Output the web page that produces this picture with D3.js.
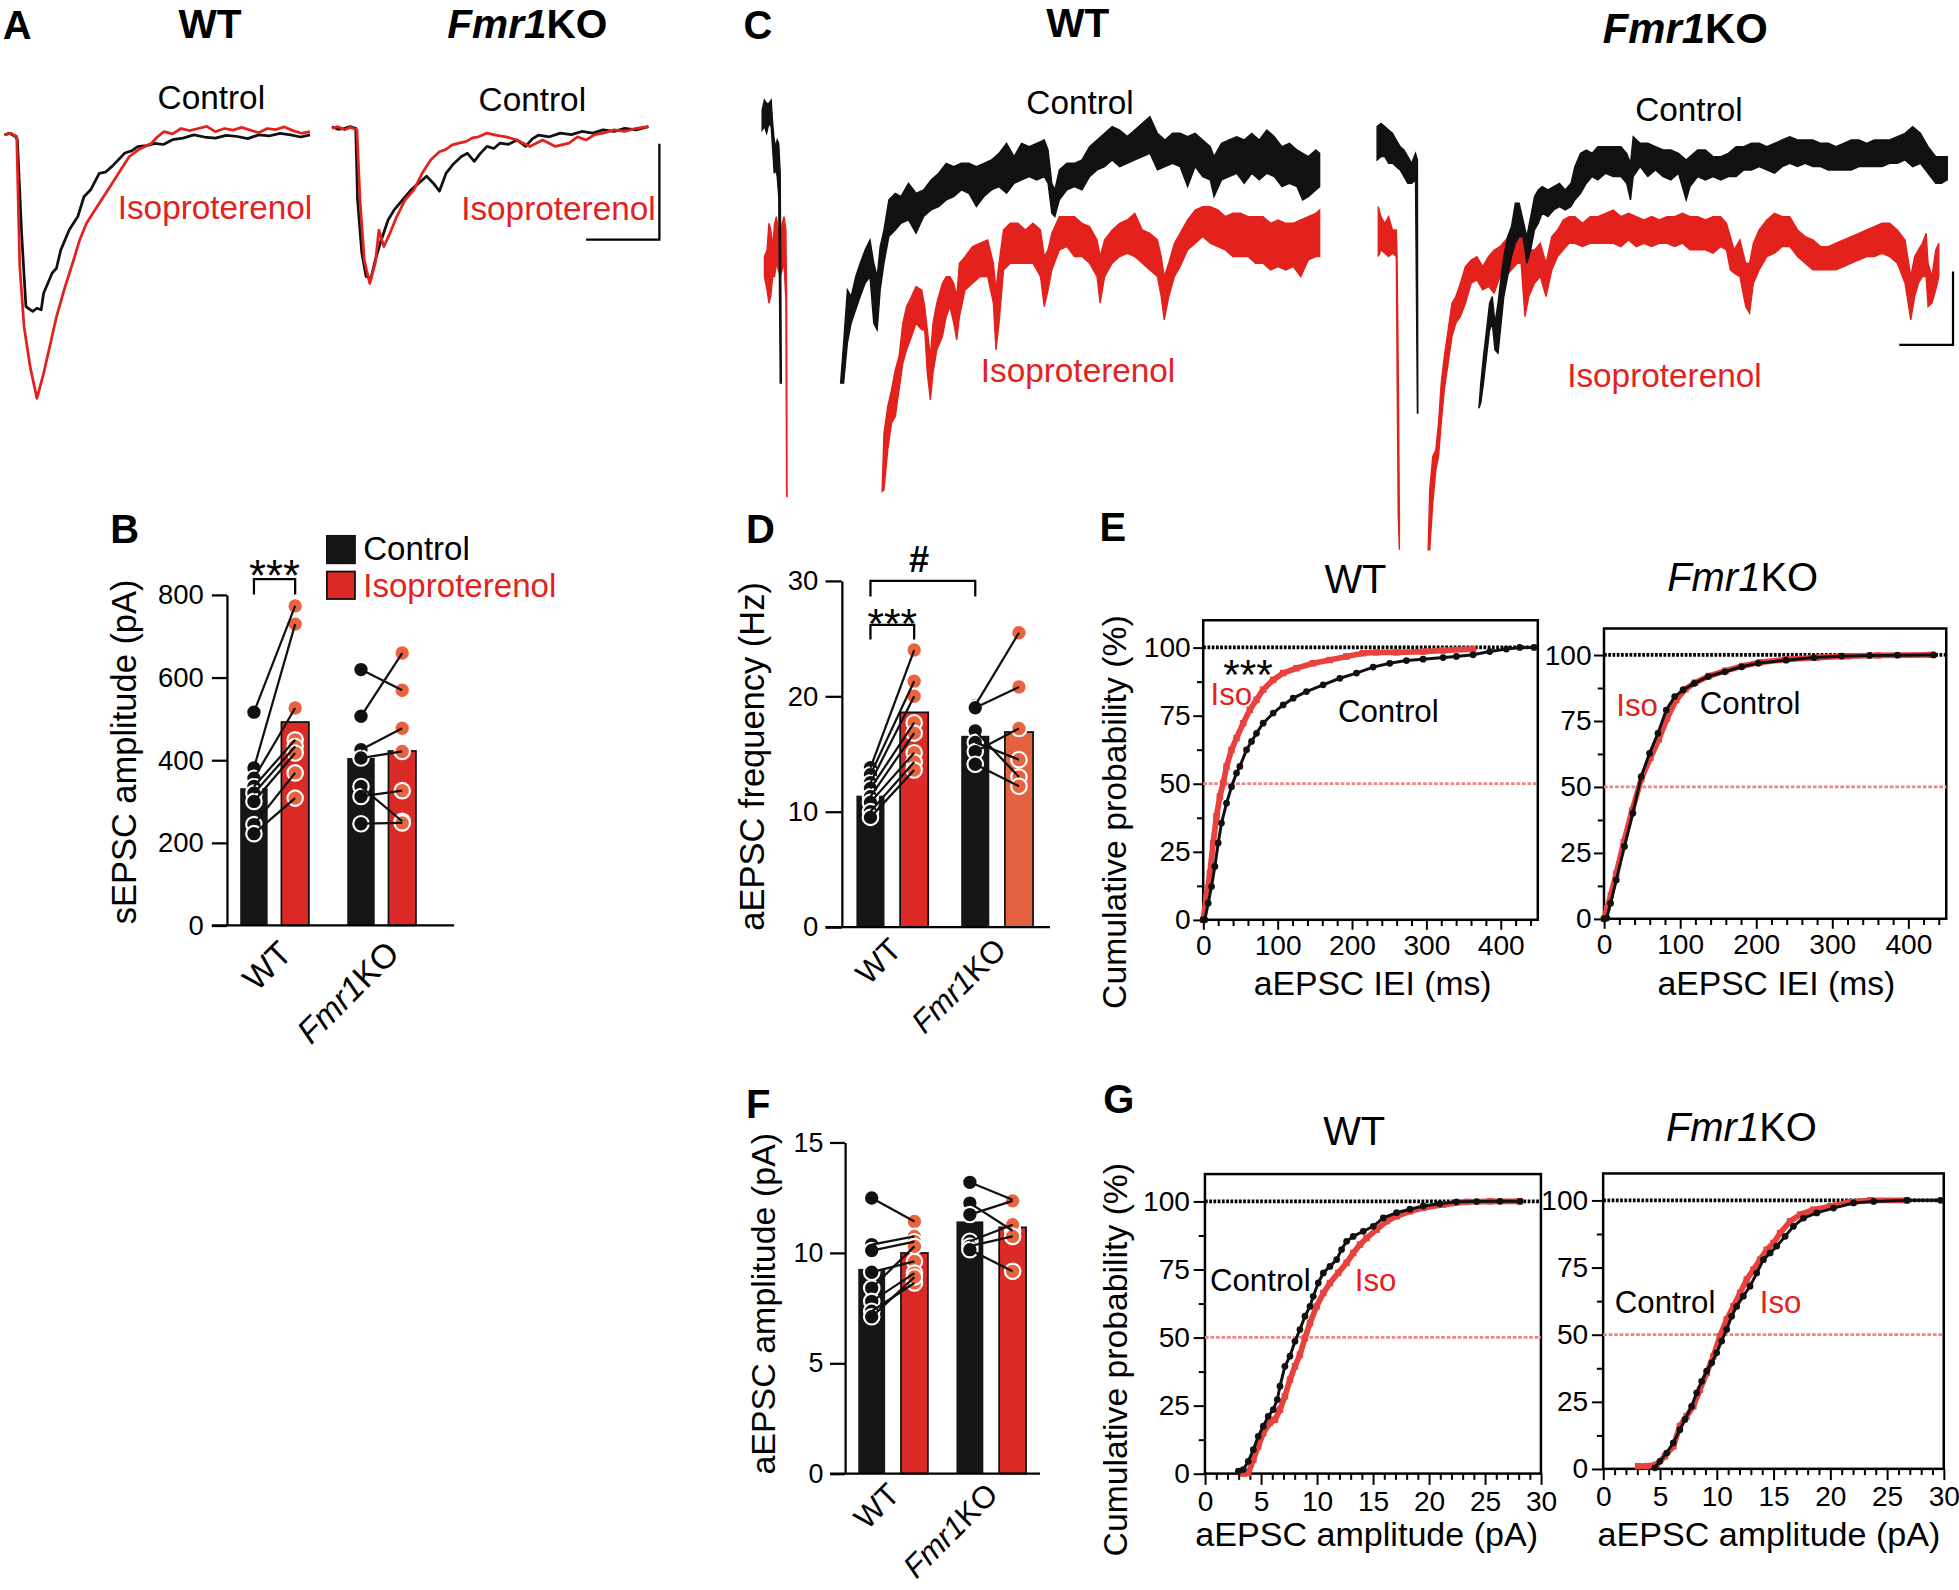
<!DOCTYPE html>
<html>
<head>
<meta charset="utf-8">
<script src="https://cdn.jsdelivr.net/npm/d3@7/dist/d3.min.js"></script>
<style>
html,body{margin:0;padding:0;background:#fff;}
svg{display:block;}
</style>
</head>
<body>
<svg id="fig" width="1959" height="1590" viewBox="0 0 1568 1273"></svg>
<script>
// ================= DATA =================
const groups = ["WT", "Fmr1KO"];
const conditions = ["Control", "Isoproterenol"];

// ---- Panel A: averaged sEPSC traces  [time ms, current pA] ----
const aWT_ctrl = [[0,0],[0.8,3],[1.8,-3],[2.1,-9],[2.8,-185],[3.5,-322],[4.6,-331],[5.3,-325],[6.0,-328],[6.4,-297],[7.8,-259],[8.5,-250],[9.2,-216],[10.6,-178],[12.0,-153],[13.0,-116],[14.1,-103],[15.5,-72],[16.5,-70],[17.6,-59],[19.7,-34],[20.8,-30],[21.8,-22],[23.2,-20],[24.6,-16],[26.0,-18],[27.5,-9],[29.2,-6],[31.0,0],[32.7,-4],[34.5,-6],[36.3,-1],[38.1,-3],[39.8,-7],[41.6,0],[43.3,-2],[45.1,3],[46.8,0],[48.5,-4],[50,0]];
const aWT_iso = [[0,0],[1.0,3],[2.0,-3],[2.3,-153],[2.5,-247],[3.2,-360],[4.2,-435],[5.3,-494],[6.4,-447],[7.4,-397],[8.5,-341],[9.9,-285],[11.3,-235],[12.3,-197],[13.4,-166],[14.8,-141],[16.2,-116],[17.6,-91],[19.0,-66],[20.4,-41],[21.9,-28],[24.0,-16],[25.0,-4],[26.1,6],[27.5,2],[28.9,12],[30.3,8],[31.7,12],[33.1,16],[34.5,6],[36.0,12],[37.4,9],[38.8,14],[40.2,9],[41.6,4],[43.0,12],[44.4,10],[45.8,15],[47.2,8],[48.6,3],[50,6]];
const aKO_ctrl = [[0,3],[1,-2],[2.1,0],[3,3],[3.9,0],[4.2,-134],[4.9,-234],[5.6,-278],[6.4,-281],[7.1,-247],[8.1,-209],[9.2,-172],[10.2,-153],[11.6,-134],[13.0,-115],[14.5,-100],[15.5,-90],[16.6,-103],[17.6,-118],[18.7,-84],[19.8,-68],[21.2,-53],[22.2,-47],[23.3,-62],[24.3,-47],[25.4,-34],[26.5,-38],[27.5,-28],[28.9,-30],[30.3,-22],[31.7,-34],[32.8,-20],[33.8,-13],[35.6,-16],[37.4,-9],[39.2,-12],[40.9,-6],[42.7,-9],[44.4,-3],[46.2,-6],[47.9,0],[49.8,-3],[51.8,3]];
const aKO_iso = [[0,0],[1,3],[2.1,-3],[3,2],[4.1,-3],[4.6,-134],[5.3,-247],[6.2,-291],[7.1,-253],[7.7,-191],[8.5,-222],[9.5,-197],[10.6,-166],[12.0,-134],[13.4,-116],[14.8,-84],[16.2,-59],[17.6,-44],[18.6,-40],[19.7,-31],[20.8,-28],[21.9,-25],[23.0,-18],[24.0,-16],[25.4,-9],[26.8,-13],[28.5,-16],[30.3,-22],[32.4,-34],[34.5,-22],[36.6,-34],[38.8,-28],[40.2,-16],[41.6,-22],[43.0,-12],[44.4,-9],[46.2,-3],[47.9,-6],[49.8,0],[51.8,3]];
const aScaleBar = {t: 53.6, i: -209, ms: 12, pA: 180};

// ---- Panel C: asynchronous EPSC traces  [time ms, noise-band low pA, noise-band high pA] ----
const cWT_ctrl_pre = [[16,10,17.5],[19,11.25,21.25],[22,8.75,20],[25,12.5,20],[28,11.25,21.25],[30,2.5,12.5],[32,-6.25,6.25],[34,-5,3.75],[36,-7.5,6.25],[38,-15,5],[40,-85,-6.25],[41.5,-85,-85]];
const cWT_ctrl_post = [[120,-85,-85],[124,-85,-70],[129,-70,-50],[134,-62.5,-52.5],[140,-57.5,-45],[146,-52.5,-40],[152.5,-47.5,-35],[159,-45,-31.25],[164,-62.5,-40],[168.5,-65,-45],[172.5,-50,-33.75],[177.5,-40,-27.5],[184,-30,-16.25],[192.5,-27.5,-13.75],[200,-25,-15],[210,-23.75,-10],[220,-28.75,-13.75],[230,-22.5,-12.5],[240,-20,-8.75],[250,-18.75,-6.25],[260,-16.25,-2.5],[270,-15,-3.75],[280,-12.5,-2.5],[290,-13.75,-2.5],[300,-18.75,-3.75],[310,-15,-2.5],[320,-12.5,-1.25],[330,-11.25,1.25],[340,-13.75,5],[350,-10,0],[360,-8.75,5],[370,-7.5,3.75],[380,-8.75,5],[390,-7.5,6.25],[395,-10,2.5],[400,-21.25,-10],[404,-22.5,-12.5],[410,-16.25,-5],[420,-12.5,-2.5],[430,-11.25,-2.5],[440,-12.5,-1.25],[450,-7.5,3.75],[460,-5,6.25],[470,-3.75,8.75],[480,-1.25,11.25],[490,-3.75,10],[500,-2.5,7.5],[510,-1.25,10],[520,0,12.5],[530,1.25,15],[540,-5,8.75],[550,-3.75,6.25],[560,-2.5,8.75],[570,-3.75,8.75],[580,-11.25,7.5],[590,-3.75,8.75],[600,-7.5,6.25],[610,-8.75,3.75],[615,-15,0],[625,-8.75,5],[635,-7.5,6.25],[645,-6.25,7.5],[655,-10,6.25],[665,-6.25,8.75],[675,-8.75,6.25],[685,-6.25,10],[695,-7.5,7.5],[705,-11.25,3.75],[715,-10,5],[725,-11.25,2.5],[732.5,-16.25,1.25],[740,-15,0],[750,-12.5,2.5],[755,-11.25,1.25]];
const cWT_iso_pre = [[19,-45,-37.5],[22.5,-50,-35],[25,-55,-25],[27.5,-52.5,-27.5],[30,-45,-33.75],[32.5,-45,-25],[35,-40,-22.5],[37.5,-42.5,-27.5],[40,-45,-32.5],[42.5,-42.5,-25],[45,-40,-22.5],[47.5,-53.75,-27.5],[48.5,-127.5,-53.75],[49,-127.5,-127.5]];
const cWT_iso_post = [[175,-125.6,-125.6],[177.5,-125,-103.75],[182.5,-110,-93.75],[187.5,-100,-87.5],[192.5,-97.5,-80],[197.5,-87.5,-75],[202.5,-77.5,-62.5],[207.5,-72.5,-56.25],[214,-67.5,-52.5],[220,-62.5,-48.75],[227.5,-65,-50],[231.5,-65,-56.25],[235,-81.25,-65],[239,-91.25,-75],[242.5,-81.25,-62.5],[247.5,-72.5,-55],[255,-67.5,-47.5],[260,-60,-45],[265,-56.25,-45],[270,-62.5,-47.5],[274,-68.75,-52.5],[277.5,-60,-40],[285,-50,-37.5],[295,-47.5,-33.75],[305,-45,-32.5],[315,-45,-31.25],[322.5,-55,-40],[326,-72.5,-50],[330,-62.5,-40],[336,-42.5,-27.5],[345,-40,-25],[355,-40,-25],[365,-40,-27.5],[375,-40,-25],[385,-45,-27.5],[390,-56.25,-37.5],[395,-50,-35],[400,-42.5,-28.75],[410,-35,-22.5],[420,-33.75,-22.5],[430,-37.5,-22.5],[440,-37.5,-25],[450,-40,-26.25],[460,-45,-31.25],[464,-55,-37.5],[470,-45,-31.25],[480,-40,-27.5],[490,-37.5,-25],[500,-36.25,-23.75],[510,-37.5,-21.25],[520,-40,-27.5],[530,-42.5,-28.75],[540,-45,-31.25],[545,-52.5,-37.5],[549,-61.25,-45],[555,-52.5,-40],[562.5,-45,-32.5],[570,-41.25,-28.75],[580,-35,-23.75],[590,-32.5,-20],[600,-30,-18.75],[610,-32.5,-18.75],[620,-33.75,-20],[630,-35,-22.5],[640,-37.5,-21.25],[650,-37.5,-21.25],[660,-37.5,-22.5],[670,-40,-22.5],[680,-40,-22.5],[690,-42.5,-25],[700,-41.25,-23.75],[710,-42.5,-25],[720,-41.25,-25],[730,-45,-23.75],[740,-38.75,-22.5],[750,-37.5,-21.25],[755,-37.5,-20]];
const cKO_ctrl_pre = [[22.5,-1.25,11.25],[27.5,0,12.5],[32.5,0,11.25],[37.5,-2.5,10],[42.5,-2.5,8.75],[47.5,-3.75,6.25],[52.5,-5,3.75],[57.5,-7.5,2.5],[62.5,-10,0],[67.5,-10,-2.5],[72.5,-8.75,1.25],[75,-96.25,-1.25],[75.5,-96.25,-96.25]];
const cKO_ctrl_post = [[155,-94.4,-94.4],[157.5,-92.5,-85],[161,-85,-75],[165,-75,-65],[169,-65,-55],[172.5,-62.5,-52.5],[176,-72.5,-62.5],[180,-73.75,-55],[184,-62.5,-45],[187.5,-52.5,-37.5],[192.5,-45,-30],[197.5,-37.5,-26.25],[202.5,-32.5,-17.5],[207.5,-30,-17.5],[212.5,-30,-23.75],[217.5,-40,-30],[222.5,-35,-22.5],[227.5,-27.5,-15],[232.5,-25,-12.5],[237.5,-21.25,-11.25],[245,-22.5,-12.5],[252.5,-20,-11.25],[260,-18.75,-10],[267.5,-20,-12.5],[275,-18.75,-10],[280,-16.25,-3.75],[287.5,-13.75,1.25],[295,-10,2.5],[302.5,-7.5,1.25],[310,-8.75,3.75],[320,-6.25,3.75],[330,-7.5,3.75],[340,-7.5,3.75],[347.5,-10,1.25],[352.5,-16.25,-2.5],[356,-7.5,7.5],[365,-3.75,5],[375,-7.5,5],[385,-5,3.75],[395,-7.5,2.5],[405,-8.75,2.5],[415,-6.25,1.25],[425,-16.25,-1.25],[430,-11.25,0],[440,-7.5,2.5],[450,-8.75,2.5],[460,-7.5,0],[470,-8.75,0],[480,-7.5,1.25],[490,-7.5,3.75],[500,-5,3.75],[510,-5,5],[520,-3.75,5],[530,-5,3.75],[540,-6.25,5],[550,-3.75,6.25],[560,-2.5,7.5],[570,-3.75,6.25],[580,-2.5,6.25],[590,-3.75,6.25],[600,-3.75,5],[610,-5,5],[620,-5,3.75],[630,-5,5],[640,-5,6.25],[650,-3.75,6.25],[660,-3.75,5],[670,-3.75,6.25],[680,-3.75,6.25],[690,-2.5,6.25],[700,-2.5,7.5],[710,-1.25,8.75],[720,-3.75,11.25],[730,-2.5,8.75],[740,-6.25,3.75],[750,-10,0],[757.5,-10,0],[765,-8.75,0]];
const cKO_iso_pre = [[24,-37.5,-18.75],[27.5,-35,-22.5],[32.5,-36.25,-25],[37.5,-37.5,-22.5],[42.5,-36.25,-27.5],[47.5,-37.5,-27.5],[48.5,-78.75,-37.5],[50,-134.4,-78.75],[51.5,-147.5,-134.4]];
const cKO_iso_post = [[89,-147.5,-147.5],[91,-147.5,-125],[95,-130,-112.5],[99,-117.5,-110],[102.5,-112.5,-100],[106,-100,-85],[110,-87.5,-75],[115,-77.5,-65],[120,-67.5,-55],[125,-62.5,-52.5],[131,-60,-47.5],[137.5,-55,-41.25],[145,-47.5,-38.75],[152.5,-46.25,-37.5],[160,-50,-41.25],[167.5,-48.75,-37.5],[175,-51.25,-35],[182.5,-45,-33.75],[190,-45,-31.25],[197.5,-42.5,-28.75],[205,-40,-28.75],[210,-40,-27.5],[215,-60,-37.5],[220,-52.5,-35],[227.5,-47.5,-35],[235,-45,-32.5],[242.5,-52.5,-40],[250,-42.5,-30],[257.5,-37.5,-27.5],[265,-35,-23.75],[272.5,-32.5,-22.5],[280,-32.5,-22.5],[290,-33.75,-25],[300,-32.5,-22.5],[310,-32.5,-22.5],[320,-32.5,-21.25],[330,-32.5,-20],[340,-33.75,-22.5],[350,-31.25,-21.25],[360,-33.75,-22.5],[370,-32.5,-23.75],[380,-33.75,-22.5],[390,-32.5,-23.75],[400,-32.5,-22.5],[410,-33.75,-22.5],[420,-32.5,-21.25],[430,-35,-22.5],[440,-35,-22.5],[450,-35,-23.75],[460,-36.25,-22.5],[470,-33.75,-22.5],[477.5,-35,-25],[482.5,-42.5,-30],[487.5,-43.75,-35],[495,-45,-31.25],[502.5,-56.25,-40],[507.5,-58.75,-40],[512.5,-47.5,-32.5],[520,-42.5,-27.5],[530,-37.5,-23.75],[540,-36.25,-21.25],[550,-33.75,-22.5],[560,-33.75,-22.5],[570,-37.5,-27.5],[580,-40,-30],[590,-42.5,-31.25],[600,-42.5,-33.75],[610,-42.5,-33.75],[620,-42.5,-32.5],[630,-41.25,-31.25],[640,-40,-30],[650,-38.75,-28.75],[660,-37.5,-27.5],[670,-37.5,-26.25],[680,-36.25,-25],[690,-37.5,-25],[700,-40,-27.5],[710,-47.5,-31.25],[717.5,-61.25,-45],[722.5,-52.5,-37.5],[727.5,-47.5,-35],[732.5,-45,-32.5],[737.5,-45,-28.75],[740,-56.25,-40],[745,-55,-45],[750,-50,-35],[754,-45,-32.5]];
const cScaleBar = {t: 772.5, i: -70.6, ms: 70, pA: 27.5};

// ---- Panel B: sEPSC amplitude (pA) ----
const bMeanControl = [332, 405];
const bMeanIso = [492, 422];
const bWT_ctrl = [516, 381, 356, 336, 320, 300, 244, 222];
const bWT_iso  = [773, 729, 526, 449, 433, 417, 369, 308];
const bKO_ctrl = [619, 506, 425, 405, 336, 312, 246];
const bKO_iso  = [569, 659, 477, 421, 252, 326, 248];
const bTicks = [0, 200, 400, 600, 800];

// ---- Panel D: aEPSC frequency (Hz) ----
const dMeanControl = [11.38, 16.57];
const dMeanIso = [18.6, 16.9];
const dWT_ctrl = [13.8, 13.2, 12.5, 12.0, 11.3, 10.8, 10.0, 9.5];
const dWT_iso  = [24.0, 21.3, 20.0, 17.7, 16.8, 15.1, 14.3, 13.6];
const dKO_ctrl = [19.2, 19.0, 17.0, 16.0, 15.2, 14.1];
const dKO_iso  = [25.5, 20.8, 13.0, 14.5, 17.2, 12.2];
const dTicks = [0, 10, 20, 30];

// ---- Panel F: aEPSC amplitude (pA) ----
const fMeanControl = [9.27, 11.42];
const fMeanIso = [9.99, 11.15];
const fWT_ctrl = [12.48, 10.37, 10.1, 9.12, 8.40, 7.80, 7.35, 7.1];
const fWT_iso  = [11.42, 10.74, 10.5, 9.61, 10.29, 9.08, 8.63, 8.9];
const fKO_ctrl = [13.19, 12.25, 11.73, 10.52, 10.3, 10.14];
const fKO_iso  = [12.4, 11.0, 12.35, 11.27, 10.74, 9.16];
const fTicks = [0, 5, 10, 15];

// ---- Panel E: cumulative aEPSC IEI  [ms, %] ----
const eWT_ctrl = [[0,0],[2.2,0],[6.7,6.1],[11.2,12.2],[15.7,19.6],[20.2,28.2],[24.6,35.5],[31.4,42.8],[38.1,48.9],[44.8,53.9],[49.3,56.3],[58.2,62.4],[65,65.5],[71.7,68.5],[80.6,72.2],[94.1,75.9],[107.5,78.9],[121,81.4],[138.9,83.8],[161.3,86.3],[183.7,88.7],[206.1,90.6],[228.5,92.8],[250.9,94.2],[273.3,95.2],[295.7,95.7],[322.6,96.3],[340.5,96.7],[362.9,97.3],[385.3,98.5],[407.7,99.4],[425.6,100],[445,100]];
const eWT_iso = [[0,0],[4.5,8.6],[9,17.1],[13.4,28.2],[17.9,38],[22.4,45.3],[26.9,50.2],[31.4,56.3],[38.1,62.4],[44.8,66.7],[53.8,72.2],[62.7,77.1],[71.7,80.8],[80.6,84.5],[94.1,88.1],[107.5,90.6],[125.4,92.4],[147.8,94.2],[170.2,95.4],[192.6,96.7],[215,97.9],[232.9,98.2],[259.8,98.2],[295.7,98.5],[322.6,98.9],[362.9,99.4]];
const eKO_ctrl = [[0,0],[3.6,0.3],[8.7,5.9],[16.1,14.7],[26.9,27.4],[37.9,40],[48.9,53.9],[59.9,62.7],[70.9,70.3],[81.9,79.1],[92.9,84.2],[103.9,86.7],[118.5,89.2],[136.8,91.8],[158.8,93.6],[180.8,95.5],[202.8,96.8],[239.4,98],[276,99],[312.6,99.5],[349.3,99.8],[385.9,99.9],[433.5,100]];
const eKO_iso = [[0,0],[4,4],[9,9],[16,17],[26,29],[37,41],[49,53],[61,61],[72,68],[83,76],[95,83],[107,87],[120,89.5],[138,92],[160,94],[182,95.8],[205,97.2],[240,98.3],[280,99],[320,99.5],[360,99.8],[430,100]];
const eXTicks = [0, 100, 200, 300, 400];

// ---- Panel G: cumulative aEPSC amplitude  [pA, %] ----
const gWT_ctrl = [[2.98,0.9],[3.42,1.5],[3.87,4.5],[4.32,8.8],[4.76,13.7],[5.21,17.4],[5.65,21],[6.1,23.5],[6.46,27.2],[6.7,32.1],[7.14,39.4],[7.59,43.1],[8.04,48.6],[8.48,52.9],[8.93,57.8],[9.38,61.4],[9.67,65.1],[10.12,70],[10.57,73.7],[11.16,76.1],[11.76,78.6],[12.2,82.3],[12.65,85.3],[13.24,87.1],[14.14,89],[15.03,90.8],[15.92,93.9],[17.11,95.8],[18.3,97.1],[19.49,98.3],[20.98,99.1],[22.47,99.8],[24.26,99.9],[26.34,100],[28.13,100]];
const gWT_iso = [[3.42,0],[3.87,0.2],[4.32,5.1],[4.76,10],[5.21,14.9],[5.8,18.6],[6.25,19.8],[6.7,23.5],[7.14,28.4],[7.59,34.5],[8.04,39.4],[8.48,43.7],[8.93,49.8],[9.38,55.3],[9.97,61.4],[10.57,66.3],[11.16,70],[11.9,73.7],[12.65,77.4],[13.24,81],[13.84,84.1],[14.43,86.5],[15.33,89.6],[16.22,92.7],[17.11,94.5],[18.3,96.3],[19.49,97.6],[21.28,98.8],[23.36,99.8],[25.45,100],[28.13,100]];
const gKO_ctrl = [[4.56,0.4],[5,2.8],[5.59,5.9],[6.18,9.7],[6.76,14.6],[7.21,18.4],[7.79,23.3],[8.24,28.3],[8.68,32.6],[9.12,36.4],[9.56,39.5],[10,43.2],[10.44,47.6],[10.88,51.9],[11.32,56.8],[11.76,60.5],[12.35,64.3],[12.94,68],[13.53,72.9],[14.12,77.9],[14.71,80.4],[15.29,82.9],[16.03,86.6],[16.76,90.3],[17.65,93.4],[18.82,95.3],[20.29,97.1],[22.06,99],[23.82,99.6],[26.76,100],[29.71,100]];
const gKO_iso = [[3.09,1],[3.82,1],[4.71,1.6],[5.44,4.7],[6.18,8.4],[6.76,15.9],[7.35,19.6],[7.94,23.3],[8.53,29.5],[9.12,35.7],[9.71,41.9],[10.29,49.4],[10.88,55.6],[11.47,60.5],[12.06,65.5],[12.65,70.5],[13.24,74.2],[13.82,77.9],[14.41,81.6],[15,84.1],[15.59,87.8],[16.47,92.2],[17.35,94.7],[18.53,96.5],[20,97.8],[21.76,99.3],[23.53,100],[26.76,100]];
const gXTicks = [0, 5, 10, 15, 20, 25, 30];
const cumYTicks = [0, 25, 50, 75, 100];
const cumYMinor = [12.5, 37.5, 62.5, 87.5];

// ================= DRAWING =================
const FONT = '"Liberation Sans", Arial, Helvetica, sans-serif';
const INK = "#111111", RED = "#e3221d", ISODOT = "#e9633f", BARRED = "#dc2a26", BARORANGE = "#e3623f",
      CURVERED = "#e8423e", PINK = "#f08585";
const svg = d3.select("#fig").attr("font-family", FONT);

function addText(sel, x, y, str, o = {}) {
  const t = sel.append("text").attr("x", x).attr("y", y)
    .attr("font-size", o.size || 27).attr("fill", o.fill || "#000")
    .attr("text-anchor", o.anchor || "start").attr("font-weight", o.weight || "normal");
  if (o.rotate != null) t.attr("transform", `rotate(${o.rotate},${x},${y})`);
  if (str === "Fmr1KO") {
    t.append("tspan").attr("font-style", "italic").text("Fmr1");
    t.append("tspan").text("KO");
  } else t.text(str);
  return t;
}
function styleAxis(s, fs, sw) {
  s.attr("font-size", fs).attr("font-family", FONT);
  s.selectAll("line").attr("stroke", "#000").attr("stroke-width", sw);
  s.selectAll("path.domain").attr("stroke", "#000").attr("stroke-width", sw);
  s.selectAll("text").attr("fill", "#000");
}

// panel letters
[["A",2,31],["B",88,435],["C",595,31],["D",597,435],["E",880,433],["F",597,895],["G",883,891]]
  .forEach(([l,x,y]) => addText(svg, x, y, l, {size: 32, weight: "bold"}));

// ---------- Panel A ----------
{
  const g = svg.append("g");
  const xW = d3.scaleLinear().domain([0, 50]).range([3.4, 3.4 + 4.892 * 50]);
  const xK = d3.scaleLinear().domain([0, 50]).range([265.5, 265.5 + 4.892 * 50]);
  const yW = d3.scaleLinear().domain([0, -500]).range([108, 108 + 0.427 * 500]);
  const yK = d3.scaleLinear().domain([0, -500]).range([102.7, 102.7 + 0.427 * 500]);
  const draw = (data, x, y, col) => g.append("path").datum(data)
    .attr("d", d3.line().x(d => x(d[0])).y(d => y(d[1])))
    .attr("fill", "none").attr("stroke", col).attr("stroke-width", 2.2).attr("stroke-linejoin", "round");
  draw(aWT_ctrl, xW, yW, INK); draw(aWT_iso, xW, yW, RED);
  draw(aKO_ctrl, xK, yK, INK); draw(aKO_iso, xK, yK, RED);
  const sb = aScaleBar;
  g.append("path").attr("d", `M${xK(sb.t - sb.ms)},${yK(sb.i)}H${xK(sb.t)}V${yK(sb.i + sb.pA)}`)
    .attr("fill", "none").attr("stroke", "#000").attr("stroke-width", 1.8);
  addText(g, 168, 30.5, "WT", {size: 32.5, weight: "bold", anchor: "middle"});
  addText(g, 422, 30.5, "Fmr1KO", {size: 32.5, weight: "bold", anchor: "middle"});
  addText(g, 169, 87, "Control", {size: 26.7, anchor: "middle"});
  addText(g, 94, 175, "Isoproterenol", {size: 26.7, fill: RED});
  addText(g, 426, 89, "Control", {size: 26.7, anchor: "middle"});
  addText(g, 369, 176, "Isoproterenol", {size: 26.7, fill: RED});
}

// ---------- Panel C ----------
{
  const g = svg.append("g");
  const xW = d3.scaleLinear().domain([0, 100]).range([600.3, 600.3 + 60.4]);
  const xK = d3.scaleLinear().domain([0, 100]).range([1088.5, 1088.5 + 61.48]);
  const y = d3.scaleLinear().domain([0, -100]).range([125.4, 125.4 + 213.4]);
  const band = (data, x, col) => g.append("path").datum(data)
    .attr("d", d3.area().x(d => x(d[0])).y0(d => y(d[1])).y1(d => y(d[2])))
    .attr("fill", col).attr("stroke", col).attr("stroke-width", 1.1).attr("stroke-linejoin", "miter");
  band(cWT_iso_pre, xW, RED); band(cWT_iso_post, xW, RED);
  band(cWT_ctrl_pre, xW, INK); band(cWT_ctrl_post, xW, INK);
  band(cKO_iso_pre, xK, RED); band(cKO_iso_post, xK, RED);
  band(cKO_ctrl_pre, xK, INK); band(cKO_ctrl_post, xK, INK);
  const sb = cScaleBar;
  g.append("path").attr("d", `M${xK(sb.t - sb.ms)},${y(sb.i)}H${xK(sb.t)}V${y(sb.i + sb.pA)}`)
    .attr("fill", "none").attr("stroke", "#000").attr("stroke-width", 1.8);
  addText(g, 862.7, 30, "WT", {size: 32.5, weight: "bold", anchor: "middle"});
  addText(g, 1349, 34.3, "Fmr1KO", {size: 33.5, weight: "bold", anchor: "middle"});
  addText(g, 864.5, 91, "Control", {size: 26.7, anchor: "middle"});
  addText(g, 785, 305.5, "Isoproterenol", {size: 26.7, fill: RED});
  addText(g, 1352, 96.6, "Control", {size: 26.7, anchor: "middle"});
  addText(g, 1254.5, 309.5, "Isoproterenol", {size: 26.7, fill: RED});
}

// ---------- Bar panels B, D, F ----------
function barPanel(p) {
  const g = svg.append("g");
  const y = d3.scaleLinear().domain([0, p.ymax]).range([p.y0, p.y1]);
  const xg = d3.scalePoint().domain(groups).range(p.groupRange);
  const xc = d3.scaleBand().domain(conditions).range([-p.half, p.half]).paddingInner(p.pad);
  const bw = xc.bandwidth();
  const cx = (grp, c) => xg(grp) + xc(c) + bw / 2;
  groups.forEach((grp, gi) => {
    conditions.forEach((c, ci) => {
      const v = (ci === 0 ? p.meanC : p.meanI)[gi];
      g.append("rect").attr("x", xg(grp) + xc(c)).attr("y", y(v)).attr("width", bw).attr("height", y(0) - y(v))
        .attr("fill", ci === 0 ? "#161616" : p.isoFill[gi])
        .attr("stroke", ci === 0 ? "none" : "#111").attr("stroke-width", 1.4);
    });
  });
  // individual cells
  groups.forEach((grp, gi) => {
    const [ctrl, iso] = p.pts[gi];
    ctrl.forEach(v => g.append("circle").attr("cx", cx(grp, "Control")).attr("cy", y(v)).attr("r", p.r)
      .attr("fill", "#111").attr("stroke", "#fff").attr("stroke-width", 1.7));
    iso.forEach(v => g.append("circle").attr("cx", cx(grp, "Isoproterenol")).attr("cy", y(v)).attr("r", p.r)
      .attr("fill", ISODOT).attr("stroke", "#fff").attr("stroke-width", 1.7));
    ctrl.forEach((v, i) => g.append("line")
      .attr("x1", cx(grp, "Control")).attr("y1", y(v)).attr("x2", cx(grp, "Isoproterenol")).attr("y2", y(iso[i]))
      .attr("stroke", "#111").attr("stroke-width", 1.8));
  });
  // axes
  g.append("g").attr("transform", `translate(${p.axisX},0)`)
    .call(d3.axisLeft(y).tickValues(p.ticks).tickSize(p.tick).tickSizeOuter(0).tickPadding(p.tickPad))
    .call(s => styleAxis(s, p.tickFont, 1.8));
  g.append("line").attr("x1", p.axisX - p.tick).attr("x2", p.axisEnd).attr("y1", p.y0).attr("y2", p.y0)
    .attr("stroke", "#000").attr("stroke-width", 1.8);
  // category labels
  groups.forEach(grp => {
    const t = g.append("text").attr("text-anchor", "end").attr("font-size", p.labSize)
      .attr("transform", `translate(${xg(grp) + p.labOff[0]},${p.y0 + p.labOff[1]}) rotate(-45)`);
    if (grp === "WT") t.text("WT");
    else { t.append("tspan").attr("font-style", "italic").text("Fmr1"); t.append("tspan").text("KO"); }
  });
  addText(g, p.titleX, p.titleY, p.title, {size: p.titleSize, anchor: "middle", rotate: -90});
  return {g, y, cx};
}

const B = barPanel({ymax: 800, y0: 740.9, y1: 476.2, groupRange: [219.6, 305.3], half: 27.5, pad: 1/3,
  meanC: bMeanControl, meanI: bMeanIso, pts: [[bWT_ctrl, bWT_iso], [bKO_ctrl, bKO_iso]], isoFill: [BARRED, BARRED],
  r: 6.2, axisX: 181.4, axisEnd: 363.4, tick: 12, tickPad: 6.5, ticks: bTicks, tickFont: 22,
  labOff: [15.5, 24], labSize: 27, title: "sEPSC amplitude (pA)", titleX: 108.9, titleY: 602, titleSize: 27.6});
const D = barPanel({ymax: 30, y0: 742.2, y1: 465, groupRange: [714.2, 798.1], half: 28.75, pad: 0.357,
  meanC: dMeanControl, meanI: dMeanIso, pts: [[dWT_ctrl, dWT_iso], [dKO_ctrl, dKO_iso]], isoFill: [BARRED, BARORANGE],
  r: 6.2, axisX: 673.7, axisEnd: 840.4, tick: 13, tickPad: 5.8, ticks: dTicks, tickFont: 22,
  labOff: [8.7, 19.7], labSize: 25, title: "aEPSC frequency  (Hz)", titleX: 611.6, titleY: 605.6, titleSize: 27.6});
const F = barPanel({ymax: 15, y0: 1179.8, y1: 914.6, groupRange: [714.8, 793.4], half: 27.86, pad: 0.371,
  meanC: fMeanControl, meanI: fMeanIso, pts: [[fWT_ctrl, fWT_iso], [fKO_ctrl, fKO_iso]], isoFill: [BARRED, BARRED],
  r: 6.2, axisX: 676.3, axisEnd: 832.4, tick: 12, tickPad: 5.3, ticks: fTicks, tickFont: 21.5,
  labOff: [6.7, 18.3], labSize: 25, title: "aEPSC amplitude (pA)", titleX: 619.9, titleY: 1043.8, titleSize: 27.2});

// significance marks
function bracket(g, x1, x2, yTop, yLeg) {
  g.append("path").attr("d", `M${x1},${yLeg}V${yTop}H${x2}V${yLeg}`)
    .attr("fill", "none").attr("stroke", "#000").attr("stroke-width", 1.8);
}
bracket(B.g, B.cx("WT", "Control"), B.cx("WT", "Isoproterenol"), 463.7, 476);
addText(B.g, (B.cx("WT", "Control") + B.cx("WT", "Isoproterenol")) / 2, 473, "***", {size: 35, anchor: "middle"});
bracket(D.g, D.cx("WT", "Control"), D.cx("WT", "Isoproterenol"), 500.3, 512);
addText(D.g, (D.cx("WT", "Control") + D.cx("WT", "Isoproterenol")) / 2, 511, "***", {size: 34, anchor: "middle"});
bracket(D.g, D.cx("WT", "Control"), D.cx("Fmr1KO", "Control"), 465, 477.6);
addText(D.g, 735.7, 458, "#", {size: 29, weight: "bold", anchor: "middle"});

// legend B
{
  const g = svg.append("g");
  g.append("rect").attr("x", 261.5).attr("y", 429).attr("width", 22.5).attr("height", 22).attr("fill", "#161616").attr("stroke", "#111").attr("stroke-width", 1.4);
  g.append("rect").attr("x", 261.5).attr("y", 457.6).attr("width", 22.5).attr("height", 22).attr("fill", BARRED).attr("stroke", "#111").attr("stroke-width", 1.4);
  addText(g, 290.6, 448.7, conditions[0], {size: 26.5});
  addText(g, 290.6, 478, conditions[1], {size: 26.5, fill: RED});
}

// ---------- Cumulative panels E, G ----------
function cumPanel(p) {
  const g = svg.append("g");
  const x = d3.scaleLinear().domain([0, p.xmax]).range([p.x0, p.x1]);
  const y = d3.scaleLinear().domain([0, 110]).range([p.y0, p.yTop]);
  const noDomain = s => s.select(".domain").remove();
  g.append("g").attr("transform", `translate(0,${p.y0})`)
    .call(d3.axisBottom(x).tickValues(p.xMinor).tickSize(p.minorLen).tickFormat(""))
    .call(s => styleAxis(s, 22, 1.6)).call(noDomain);
  g.append("g").attr("transform", `translate(0,${p.y0})`)
    .call(d3.axisBottom(x).tickValues(p.xMajor).tickSize(p.majorLen).tickPadding(p.xPad))
    .call(s => styleAxis(s, 22.5, 1.6)).call(noDomain);
  g.append("g").attr("transform", `translate(${p.x0},0)`)
    .call(d3.axisLeft(y).tickValues(cumYMinor).tickSize(p.minorLen).tickFormat(""))
    .call(s => styleAxis(s, 22, 1.6)).call(noDomain);
  g.append("g").attr("transform", `translate(${p.x0},0)`)
    .call(d3.axisLeft(y).tickValues(cumYTicks).tickSize(p.majorLen).tickPadding(p.yPad))
    .call(s => styleAxis(s, 22.5, 1.6)).call(noDomain);
  g.append("rect").attr("x", p.x0).attr("y", y(110)).attr("width", p.x1 - p.x0).attr("height", p.y0 - y(110))
    .attr("fill", "none").attr("stroke", "#000").attr("stroke-width", 2);
  // reference lines
  g.append("line").attr("x1", x(0)).attr("x2", p.x1).attr("y1", y(50)).attr("y2", y(50))
    .attr("stroke", PINK).attr("stroke-width", 2.2).attr("stroke-dasharray", "3,1.4");
  g.append("line").attr("x1", x(0)).attr("x2", p.x1).attr("y1", y(100)).attr("y2", y(100))
    .attr("stroke", "#000").attr("stroke-width", 3).attr("stroke-dasharray", "2.2,1.2");
  const line = d3.line().x(d => x(d[0])).y(d => y(d[1]));
  g.append("path").datum(p.iso).attr("d", line).attr("fill", "none").attr("stroke", CURVERED)
    .attr("stroke-width", 4.6).attr("stroke-linejoin", "round");
  g.selectAll(null).data(p.iso).enter().append("rect")
    .attr("x", d => x(d[0]) - 2.6).attr("y", d => y(d[1]) - 2.6).attr("width", 5.2).attr("height", 5.2).attr("fill", CURVERED);
  g.append("path").datum(p.ctrl).attr("d", line).attr("fill", "none").attr("stroke", INK)
    .attr("stroke-width", 2.4).attr("stroke-linejoin", "round");
  g.selectAll(null).data(p.ctrl).enter().append("circle")
    .attr("cx", d => x(d[0])).attr("cy", d => y(d[1])).attr("r", 2.7).attr("fill", INK);
  // titles
  addText(g, p.titleCx, p.titleY, p.title, {size: 32, anchor: "middle"});
  addText(g, (p.x0 + p.x1) / 2 + p.xtOff, p.xtY, p.xTitle, {size: p.xtSize, anchor: "middle"});
  addText(g, p.isoX, p.isoY, "Iso", {size: 25, fill: RED});
  addText(g, p.ctlX, p.ctlY, "Control", {size: 25});
  return {g, x, y};
}

const eMinor = d3.range(20, 450, 20).filter(v => v % 100 !== 0);
const gMinor = d3.range(1, 30, 1).filter(v => v % 5 !== 0);
const EW = cumPanel({xmax: 450, x0: 963.1, x1: 1231, y0: 736.4, yTop: 496.6, xMajor: eXTicks, xMinor: eMinor,
  majorLen: 8, minorLen: 5, xPad: 4, yPad: 2, ctrl: eWT_ctrl, iso: eWT_iso, title: "WT", titleCx: 1085, titleY: 475,
  xTitle: "aEPSC IEI (ms)", xtOff: 1.7, xtY: 797, xtSize: 27, isoX: 969, isoY: 564.3, ctlX: 1071, ctlY: 578.4});
const EK = cumPanel({xmax: 450, x0: 1284, x1: 1558, y0: 735.6, yTop: 503.2, xMajor: eXTicks, xMinor: eMinor,
  majorLen: 8, minorLen: 5, xPad: 4, yPad: 2, ctrl: eKO_ctrl, iso: eKO_iso, title: "Fmr1KO", titleCx: 1395, titleY: 473,
  xTitle: "aEPSC IEI (ms)", xtOff: 1, xtY: 797, xtSize: 27, isoX: 1293.8, isoY: 573, ctlX: 1360.7, ctlY: 571.5});
const GW = cumPanel({xmax: 30, x0: 964.5, x1: 1233.5, y0: 1179.8, yTop: 940, xMajor: gXTicks, xMinor: gMinor,
  majorLen: 9, minorLen: 5, xPad: 5, yPad: 3, ctrl: gWT_ctrl, iso: gWT_iso, title: "WT", titleCx: 1084, titleY: 916.5,
  xTitle: "aEPSC amplitude (pA)", xtOff: -5, xtY: 1237.5, xtSize: 27.3, isoX: 1084.5, isoY: 1033.8, ctlX: 968.5, ctlY: 1033.8});
const GK = cumPanel({xmax: 30, x0: 1283.3, x1: 1556, y0: 1176, yTop: 939.5, xMajor: gXTicks, xMinor: gMinor,
  majorLen: 9, minorLen: 5, xPad: 5, yPad: 3, ctrl: gKO_ctrl, iso: gKO_iso, title: "Fmr1KO", titleCx: 1394, titleY: 913.2,
  xTitle: "aEPSC amplitude (pA)", xtOff: -3.6, xtY: 1237.5, xtSize: 27.3, isoX: 1408.7, isoY: 1051.2, ctlX: 1292.6, ctlY: 1051.2});
addText(EW.g, 999, 552, "***", {size: 34, anchor: "middle"});
addText(svg, 901, 650.2, "Cumulative probability (%)", {size: 27, anchor: "middle", rotate: -90});
addText(svg, 902, 1088.6, "Cumulative probability (%)", {size: 27, anchor: "middle", rotate: -90});
</script>
</body>
</html>
